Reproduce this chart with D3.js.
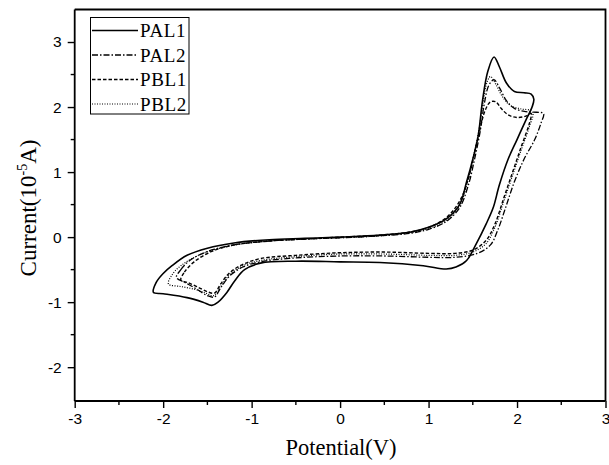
<!DOCTYPE html>
<html><head><meta charset="utf-8">
<script src="https://cdn.jsdelivr.net/npm/d3@7"></script>
<style>body{margin:0;background:#fff}</style>
</head><body>
<svg id="chart" width="609" height="465"></svg>
<script>
// cyclic voltammograms, [potential V, current 1e-5 A], each a closed loop
const pal1 = [[-2.11,-0.85],[-2.08,-0.70],[-2.0,-0.56],[-1.9,-0.44],[-1.73,-0.28],[-1.5,-0.17],[-1.2,-0.09],[-0.8,-0.04],[-0.4,-0.02],[0,0.0],[0.45,0.03],[0.8,0.08],[1.0,0.15],[1.2,0.28],[1.35,0.5],[1.43,0.85],[1.5,1.2],[1.56,1.55],[1.61,2.1],[1.67,2.55],[1.74,2.77],[1.80,2.62],[1.88,2.37],[1.97,2.24],[2.08,2.22],[2.16,2.2],[2.19,2.12],[2.17,2.0],[2.10,1.80],[2.0,1.5],[1.9,1.2],[1.8,0.8],[1.73,0.45],[1.65,0.2],[1.54,-0.1],[1.43,-0.36],[1.31,-0.46],[1.2,-0.49],[0.94,-0.44],[0.45,-0.39],[0,-0.38],[-0.5,-0.37],[-0.9,-0.40],[-1.08,-0.5],[-1.19,-0.67],[-1.28,-0.85],[-1.38,-1.0],[-1.45,-1.05],[-1.55,-1.0],[-1.73,-0.93],[-2.0,-0.87]];
const pal2 = [[-1.85,-0.62],[-1.8,-0.5],[-1.7,-0.36],[-1.5,-0.22],[-1.2,-0.12],[-0.8,-0.06],[-0.4,-0.03],[0,-0.01],[0.45,0.02],[0.8,0.06],[1.0,0.12],[1.2,0.24],[1.35,0.45],[1.45,0.8],[1.52,1.2],[1.58,1.6],[1.63,2.05],[1.68,2.33],[1.74,2.42],[1.80,2.3],[1.88,2.1],[1.97,1.98],[2.1,1.93],[2.22,1.92],[2.30,1.9],[2.27,1.75],[2.2,1.5],[2.08,1.2],[1.97,0.85],[1.87,0.45],[1.78,0.1],[1.7,-0.12],[1.55,-0.25],[1.3,-0.31],[1.0,-0.31],[0.5,-0.29],[0,-0.29],[-0.5,-0.32],[-0.9,-0.38],[-1.1,-0.46],[-1.25,-0.6],[-1.35,-0.78],[-1.42,-0.92],[-1.5,-0.9],[-1.62,-0.8],[-1.75,-0.7]];
const pbl1 = [[-1.8,-0.66],[-1.76,-0.54],[-1.65,-0.38],[-1.45,-0.22],[-1.2,-0.12],[-0.8,-0.06],[-0.4,-0.03],[0,0.0],[0.45,0.03],[0.8,0.08],[1.0,0.15],[1.2,0.3],[1.35,0.55],[1.45,0.9],[1.52,1.3],[1.58,1.65],[1.64,1.95],[1.70,2.08],[1.76,2.08],[1.82,1.98],[1.9,1.88],[2.0,1.84],[2.1,1.86],[2.16,1.9],[2.14,1.75],[2.05,1.4],[1.95,1.0],[1.85,0.6],[1.75,0.2],[1.65,-0.05],[1.5,-0.2],[1.3,-0.25],[1.0,-0.25],[0.5,-0.23],[0,-0.24],[-0.5,-0.28],[-0.9,-0.33],[-1.1,-0.42],[-1.25,-0.55],[-1.35,-0.72],[-1.42,-0.86],[-1.5,-0.84],[-1.62,-0.76],[-1.72,-0.7]];
const pbl2 = [[-1.94,-0.72],[-1.9,-0.58],[-1.8,-0.44],[-1.6,-0.28],[-1.3,-0.15],[-0.9,-0.07],[-0.4,-0.03],[0,-0.01],[0.45,0.02],[0.8,0.07],[1.0,0.13],[1.2,0.26],[1.35,0.48],[1.44,0.85],[1.51,1.25],[1.57,1.65],[1.62,2.1],[1.66,2.38],[1.70,2.47],[1.76,2.35],[1.84,2.15],[1.93,2.02],[2.05,1.97],[2.15,1.95],[2.18,1.9],[2.14,1.7],[2.05,1.35],[1.95,0.95],[1.85,0.55],[1.75,0.15],[1.65,-0.1],[1.5,-0.23],[1.3,-0.28],[1.0,-0.28],[0.5,-0.26],[0,-0.26],[-0.5,-0.3],[-0.9,-0.36],[-1.1,-0.44],[-1.25,-0.58],[-1.35,-0.76],[-1.43,-0.9],[-1.52,-0.86],[-1.65,-0.8],[-1.8,-0.76]];

const seriesNames = ["PAL1", "PAL2", "PBL1", "PBL2"];
const seriesData = [pal1, pal2, pbl1, pbl2];
const seriesDash = [null, "6,2,1.5,2", "3.5,2", "1,1.5"];
const seriesWidth = [1.6, 1.3, 1.4, 1.2];

const xTicks = [-3, -2, -1, 0, 1, 2, 3];
const yTicks = [-2, -1, 0, 1, 2, 3];
const xMinor = [-2.5, -1.5, -0.5, 0.5, 1.5, 2.5];
const yMinor = [-1.5, -0.5, 0.5, 1.5, 2.5];

const svg = d3.select("#chart");
const mLeft = 74.7, mRight = 605.5, mTop = 9.5, mBottom = 401;

const x = d3.scaleLinear().domain([-3, 3]).range([mLeft, mRight]);
const y = d3.scaleLinear().domain([-2.52, 3.5]).range([mBottom, mTop]);

// frame (top + right lines)
svg.append("path")
  .attr("d", `M${mLeft},${mTop}H${mRight}V${mBottom}`)
  .attr("fill", "none").attr("stroke", "#000").attr("stroke-width", 1.8);

// axes with outward ticks, plain hyphen minus like the original
const fmt = d => String(d);
const xAxis = svg.append("g").attr("transform", `translate(0,${mBottom})`)
  .call(d3.axisBottom(x).tickValues(xTicks).tickSize(7).tickPadding(5).tickFormat(fmt));
xAxis.append("g").selectAll("line").data(xMinor).join("line")
  .attr("x1", d => x(d)).attr("x2", d => x(d)).attr("y1", 0).attr("y2", 4)
  .attr("stroke", "#000").attr("stroke-width", 1.4);

const yAxis = svg.append("g").attr("transform", `translate(${mLeft},0)`)
  .call(d3.axisLeft(y).tickValues(yTicks).tickSize(7).tickPadding(6).tickFormat(fmt));
yAxis.append("g").selectAll("line").data(yMinor).join("line")
  .attr("y1", d => y(d)).attr("y2", d => y(d)).attr("x1", 0).attr("x2", -4)
  .attr("stroke", "#000").attr("stroke-width", 1.4);

[xAxis, yAxis].forEach(a => {
  a.select(".domain").attr("stroke-width", 1.8);
  a.selectAll(".tick line").attr("stroke-width", 1.4);
  a.selectAll("text").attr("font-family", "Liberation Sans, Arial, sans-serif")
    .attr("font-size", 15.5).attr("fill", "#000");
});
xAxis.select(".domain").attr("d", `M${mLeft},0H${mRight}`);
yAxis.select(".domain").attr("d", `M0,${mBottom}V${mTop}`);

// curves
const line = d3.line().x(d => x(d[0])).y(d => y(d[1])).curve(d3.curveCatmullRomClosed.alpha(0.5));
svg.append("g").selectAll("path").data(seriesData).join("path")
  .attr("d", line)
  .attr("fill", "none").attr("stroke", "#000")
  .attr("stroke-width", (d, i) => seriesWidth[i])
  .attr("stroke-dasharray", (d, i) => seriesDash[i]);

// legend
const lg = svg.append("g");
lg.append("rect").attr("x", 90.5).attr("y", 17.5).attr("width", 98.5).attr("height", 96.5)
  .attr("fill", "#fff").attr("stroke", "#000").attr("stroke-width", 1);
seriesNames.forEach((name, i) => {
  const ly = 30.5 + i * 24.5;
  lg.append("line").attr("x1", 92).attr("x2", 138).attr("y1", ly).attr("y2", ly)
    .attr("stroke", "#000").attr("stroke-width", seriesWidth[i])
    .attr("stroke-dasharray", seriesDash[i]);
  lg.append("text").attr("x", 140).attr("y", ly + 6.5)
    .attr("font-family", "Liberation Serif, Times New Roman, serif").attr("font-size", 19)
    .attr("letter-spacing", 0.6)
    .text(name);
});

// titles
svg.append("text").attr("x", 341).attr("y", 455).attr("text-anchor", "middle")
  .attr("font-family", "Liberation Serif, Times New Roman, serif").attr("font-size", 22.5)
  .text("Potential(V)");
const yt = svg.append("text").attr("transform", "translate(36,208) rotate(-90)")
  .attr("text-anchor", "middle")
  .attr("font-family", "Liberation Serif, Times New Roman, serif").attr("font-size", 23);
yt.append("tspan").text("Current(10");
yt.append("tspan").attr("dy", -9).attr("font-size", 14).text("-5");
yt.append("tspan").attr("dy", 9).text("A)");
</script>
</body></html>
